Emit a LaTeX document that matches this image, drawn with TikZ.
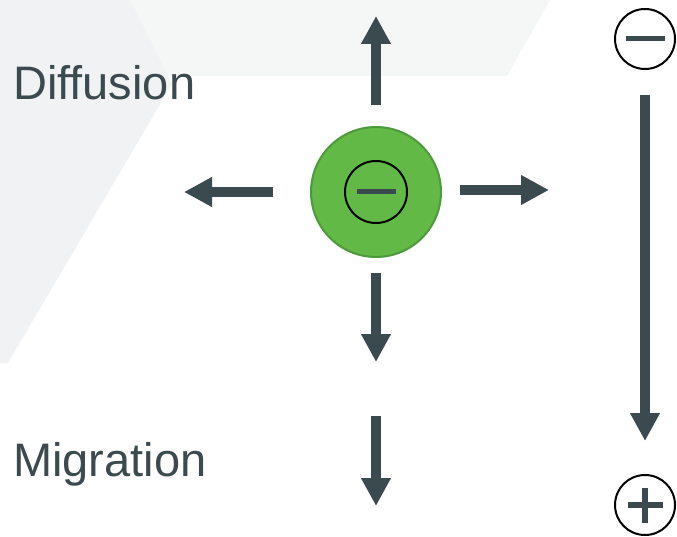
\documentclass[tikz,border=0pt]{standalone}
\usepackage{fontspec}
\setmainfont{Liberation Sans}
\usepackage{xcolor}
\definecolor{dslate}{HTML}{3A4A4F}
\definecolor{ionfill}{HTML}{62B946}
\definecolor{iondraw}{HTML}{4C9A38}
\definecolor{bandgray}{HTML}{F5F6F6}
\definecolor{wedgegray}{HTML}{F1F2F4}
\usetikzlibrary{arrows.meta,positioning,calc}

\begin{document}
\begin{tikzpicture}[x=1pt,y=-1pt,
  flow/.style={-{Triangle[length=28pt,width=28pt]},line width=10pt,dslate},
  charge/.style={circle,draw=black,line width=2pt,minimum size=60pt,inner sep=0pt},
  bar/.style={line width=5pt,dslate},
  lbl/.style={font=\fontsize{47}{50}\selectfont,text=dslate,anchor=base west,inner sep=0pt}]
\useasboundingbox (0,0) rectangle (677,537);
\fill[bandgray] (100,0) -- (550,0) -- (507,76) -- (100,76) -- cycle;
\fill[wedgegray] (0,0) -- (130,0) -- (172,84) -- (8,363) -- (0,363) -- cycle;
\node[lbl] (diff) at (13,100) {Diffusion};
\node[lbl] (migr) at (13,476) {Migration};
\node[circle,fill=ionfill,draw=iondraw,line width=2pt,minimum size=130pt] (ion) at (376,192) {};
\node[charge,minimum size=62pt] (ionq) at (ion) {};
\draw[bar] ([xshift=-19.5pt]ionq.center) -- ([xshift=19.5pt]ionq.center);
\draw[flow] ([yshift=21pt]ion.north) -- ++(0,-89);
\draw[flow] ([yshift=-15pt]ion.south) -- ++(0,89);
\draw[flow] ([xshift=-37pt]ion.west) -- ++(-89,0);
\draw[flow] ([xshift=18pt,yshift=2pt]ion.east) -- ++(89,0);
\coordinate (mtop) at (376,416);
\draw[flow] (mtop) -- ++(0,90);
\node[charge] (neg) at (645,39) {};
\draw[bar] ([xshift=-19.5pt]neg.center) -- ([xshift=19.5pt]neg.center);
\node[charge] (pos) at (645,505) {};
\draw[bar,line width=6pt] ([xshift=-17.5pt]pos.center) -- ([xshift=17.5pt]pos.center);
\draw[bar,line width=6pt] ([yshift=-17.5pt]pos.center) -- ([yshift=17.5pt]pos.center);
\draw[flow] ([yshift=-25pt]neg.south) -- ([yshift=33pt]pos.north);
\end{tikzpicture}
\end{document}
